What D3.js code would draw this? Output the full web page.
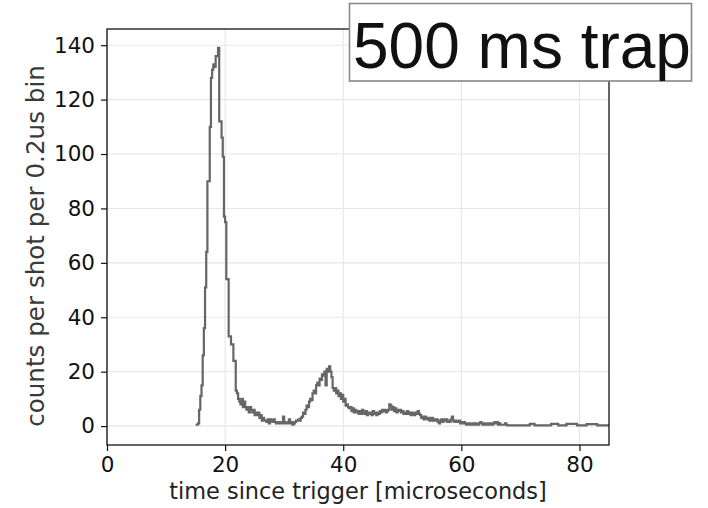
<!DOCTYPE html>
<html>
<head>
<meta charset="utf-8">
<script src="https://cdn.jsdelivr.net/npm/d3@7"></script>
<style>
  html, body { margin: 0; padding: 0; background: #fff; }
  svg { display: block; }
</style>
</head>
<body>
<svg id="chart" width="708" height="508"></svg>
<script>
// Time-of-flight histogram: counts per shot in 0.2 µs bins, starting at 15.0 µs
const binStart = 15.0;
const binWidth = 0.2;
const counts = [
  // 15.0 – 16.8
  0.5, 0.5, 1, 6, 11, 15, 26, 36, 51, 64,
  // 17.0 – 18.8
  90, 90, 110, 128, 131, 133, 132, 136, 136, 139,
  // 19.0 – 20.8
  112, 112, 106, 99, 77, 75, 54, 54, 33, 33,
  // 21.0 – 22.8
  30, 30, 24, 24, 13, 12, 10, 9, 8, 10,
  // 23.0 – 24.8
  7, 9, 7, 6, 7, 5, 7, 6, 5, 6,
  // 25.0 – 26.8
  4, 5, 4, 5, 3, 4, 2, 3, 2, 2,
  // 27.0 – 28.8
  1.5, 2.5, 1, 2.5, 2, 1.5, 2.5, 1.5, 1, 1.5,
  // 29.0 – 30.8
  1, 1.5, 1, 1, 3.5, 1, 1.5, 1, 1, 2.5,
  // 31.0 – 32.8
  1, 1.5, 0.5, 1, 1.5, 2, 2, 2.5, 2, 3,
  // 33.0 – 34.8
  3.5, 5, 4.5, 6, 7.5, 7, 9, 10, 9.5, 12,
  // 35.0 – 36.8
  13, 12, 15, 16, 15, 17.5, 17, 19, 18.5, 20,
  // 37.0 – 38.8
  15, 21, 20, 22, 20, 18, 14, 13, 14, 12,
  // 39.0 – 40.8
  13, 11, 12, 10, 11.5, 9, 10, 7.5, 8, 7,
  // 41.0 – 42.8
  6.5, 7, 5.5, 6.5, 5, 6, 5, 5.5, 4.5, 5.5,
  // 43.0 – 44.8
  4.5, 6, 5, 4.5, 5.5, 4, 5, 4.5, 5, 4,
  // 45.0 – 46.8
  5.5, 4.5, 5, 4, 5, 4.5, 5.5, 5, 6, 5.5,
  // 47.0 – 48.8
  6, 5, 5.5, 6, 8, 7.5, 6, 7, 5.5, 6.5,
  // 49.0 – 50.8
  5, 6, 5.5, 6, 5, 5.5, 4.5, 5, 4.5, 5.5,
  // 51.0 – 52.8
  4.5, 5, 4, 5, 4.5, 4, 5, 4.5, 5.5, 4.5,
  // 53.0 – 54.8
  4, 3, 3.5, 2.5, 3.5, 3, 2.5, 3, 2, 2.5,
  // 55.0 – 56.8
  3, 2, 2.5, 2, 2.5, 1.5, 1, 2, 2.5, 1.5,
  // 57.0 – 58.8
  2.5, 2, 2.5, 1.5, 2, 1.5, 2.5, 3.5, 2, 1.5,
  // 59.0 – 60.8
  2, 1.5, 1.5, 2, 1, 1.5, 1, 1.5, 1, 0.5,
  // 61.0 – 62.8
  1, 0.5, 1, 0.5, 0.5, 1, 0.5, 1, 0.5, 0.5,
  // 63.0 – 64.8
  1, 1.5, 1, 0.5, 1, 0.5, 0.5, 1, 0.5, 1,
  // 65.0 – 66.8
  1, 0.5, 1, 1.5, 1, 1.5, 0.5, 1, 0.5, 0.5,
  // 67.0 – 68.8
  0.5, 0.5, 1, 0.5, 0.3, 0.3, 0.3, 0.3, 0.3, 0.3,
  // 69.0 – 70.8
  0.3, 0.3, 0.3, 0.3, 0.3, 0.3, 0.3, 0.3, 0.3, 0.3,
  // 71.0 – 72.8
  0.3, 0.3, 0.3, 0.8, 0.8, 0.8, 0.8, 0.3, 0.3, 0.3,
  // 73.0 – 74.8
  0.3, 0.3, 0.3, 0.3, 0.3, 0.3, 0.3, 0.3, 0.3, 0.3,
  // 75.0 – 76.8
  0.3, 0.8, 0.8, 0.8, 0.8, 0.8, 0.8, 0.3, 0.3, 0.3,
  // 77.0 – 78.8
  0.3, 0.3, 0.3, 0.3, 0.8, 0.8, 0.8, 0.8, 0.8, 0.8,
  // 79.0 – 80.8
  0.8, 0.8, 0.8, 0.3, 0.3, 0.3, 0.3, 0.3, 0.3, 0.3,
  // 81.0 – 82.8
  0.3, 0.7, 0.7, 0.7, 0.7, 0.7, 0.7, 0.7, 0.7, 0.7,
  // 83.0 – 84.8
  0.3, 0.3, 0.3, 0.3, 0.3, 0.3, 0.3, 0.3, 0.3, 0.3
];

const xTicks = [0, 20, 40, 60, 80];
const yTicks = [0, 20, 40, 60, 80, 100, 120, 140];
const xLimits = [0, 85];
const xLabel = "time since trigger [microseconds]";
const yLabel = "counts per shot per 0.2us bin";
const titleText = "500 ms trap";

const svg = d3.select("#chart");
const plot = { left: 107, right: 609, top: 29, bottom: 445 };

const yMax = d3.max(counts);
const yPad = 0.05 * yMax;

const x = d3.scaleLinear().domain(xLimits).range([plot.left, plot.right]);
const y = d3.scaleLinear().domain([-yPad, yMax + yPad]).range([plot.bottom, plot.top]);

// grid
const grid = svg.append("g").attr("stroke", "#e6e6e6").attr("stroke-width", 1.1);
grid.selectAll("line.vx").data(xTicks).join("line")
  .attr("x1", d => x(d)).attr("x2", d => x(d))
  .attr("y1", plot.top).attr("y2", plot.bottom);
grid.selectAll("line.hy").data(yTicks).join("line")
  .attr("x1", plot.left).attr("x2", plot.right)
  .attr("y1", d => y(d)).attr("y2", d => y(d));

// histogram drawn as a step line
const pts = counts.map((c, i) => [binStart + i * binWidth, c]);
pts.push([binStart + counts.length * binWidth, counts[counts.length - 1]]);

svg.append("clipPath").attr("id", "plotClip")
  .append("rect")
  .attr("x", plot.left).attr("y", plot.top)
  .attr("width", plot.right - plot.left).attr("height", plot.bottom - plot.top);

const line = d3.line()
  .x(d => x(d[0]))
  .y(d => y(d[1]))
  .curve(d3.curveStepAfter);

svg.append("path")
  .datum(pts)
  .attr("clip-path", "url(#plotClip)")
  .attr("fill", "none")
  .attr("stroke", "#666666")
  .attr("stroke-width", 2.2)
  .attr("stroke-linejoin", "miter")
  .attr("d", line);

// axes
const tickFont = "DejaVu Sans, sans-serif";
const xAxis = svg.append("g")
  .attr("transform", `translate(0,${plot.bottom})`)
  .call(d3.axisBottom(x).tickValues(xTicks).tickFormat(d3.format("d"))
    .tickSize(6).tickPadding(6).tickSizeOuter(0));
const yAxis = svg.append("g")
  .attr("transform", `translate(${plot.left},0)`)
  .call(d3.axisLeft(y).tickValues(yTicks).tickFormat(d3.format("d"))
    .tickSize(6).tickPadding(6).tickSizeOuter(0));

[xAxis, yAxis].forEach(g => {
  g.select(".domain").remove();
  g.selectAll(".tick line").attr("stroke", "#111").attr("stroke-width", 1.2);
  g.selectAll(".tick text")
    .attr("fill", "#111")
    .style("font-family", tickFont)
    .style("font-size", "21.5px");
});

// frame
svg.append("rect")
  .attr("x", plot.left).attr("y", plot.top)
  .attr("width", plot.right - plot.left).attr("height", plot.bottom - plot.top)
  .attr("fill", "none")
  .attr("stroke", "#111")
  .attr("stroke-width", 1.3);

// axis labels
svg.append("text")
  .attr("x", (plot.left + plot.right) / 2)
  .attr("y", 499)
  .attr("text-anchor", "middle")
  .attr("fill", "#222")
  .style("font-family", tickFont)
  .style("font-size", "22.4px")
  .text(xLabel);

svg.append("text")
  .attr("transform", `translate(44,${(plot.top + plot.bottom) / 2 + 9}) rotate(-90)`)
  .attr("text-anchor", "middle")
  .attr("fill", "#3a3a3a")
  .style("font-family", tickFont)
  .style("font-size", "24.6px")
  .text(yLabel);

// boxed annotation in the upper right
const box = svg.append("g");
box.append("rect")
  .attr("x", 349.5).attr("y", 3.5)
  .attr("width", 342).attr("height", 77.5)
  .attr("fill", "#fff")
  .attr("stroke", "#888")
  .attr("stroke-width", 1.6);
box.append("text")
  .attr("x", 353)
  .attr("y", 68)
  .attr("fill", "#111")
  .style("font-family", "Liberation Sans, Arial, sans-serif")
  .style("font-size", "64px")
  .text(titleText);
</script>
</body>
</html>
